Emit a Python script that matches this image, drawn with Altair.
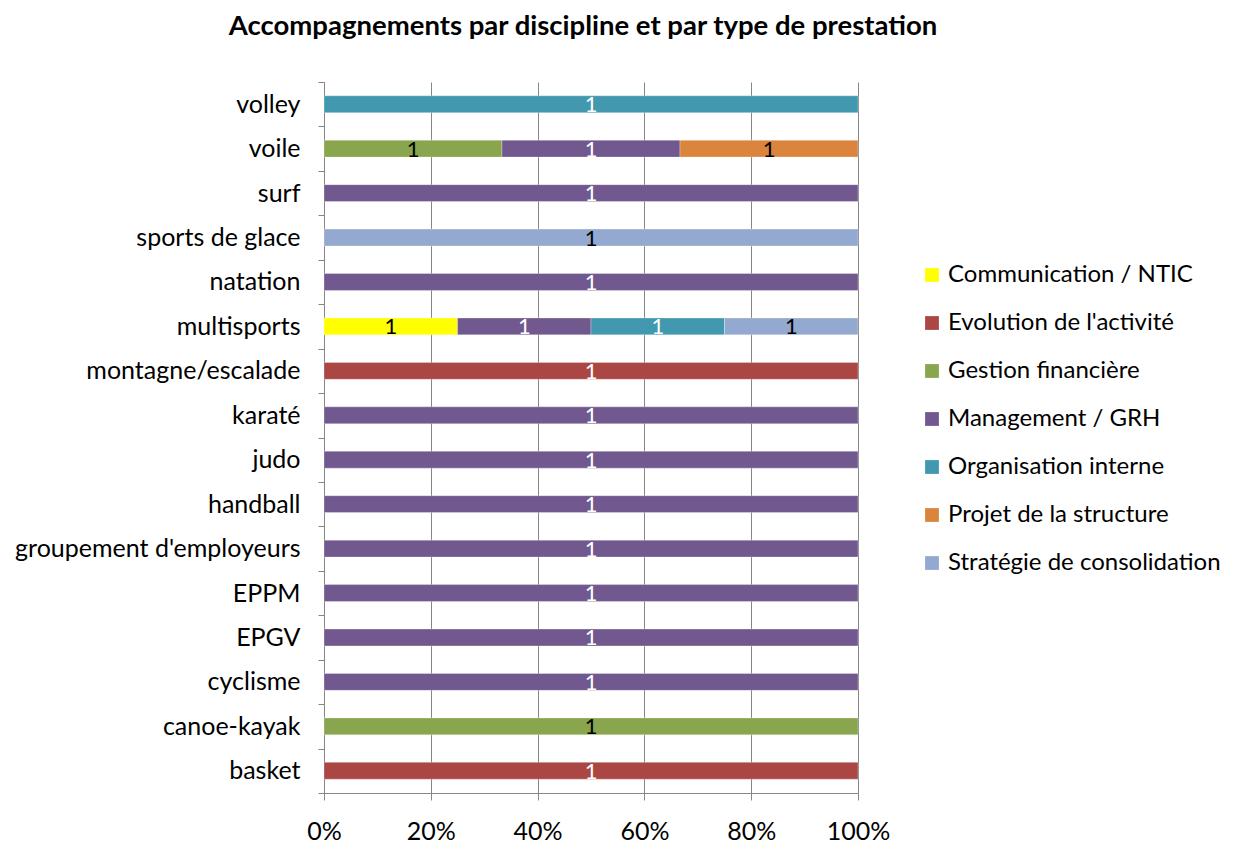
import altair as alt
import pandas as pd
import json

disciplines = ["volley", "voile", "voile", "voile", "surf", "sports de glace", "natation",
               "multisports", "multisports", "multisports", "multisports",
               "montagne/escalade", "karaté", "judo", "handball", "groupement d'employeurs",
               "EPPM", "EPGV", "cyclisme", "canoe-kayak", "basket"]
types = ["Organisation interne", "Gestion financière", "Management / GRH", "Projet de la structure",
         "Management / GRH", "Stratégie de consolidation", "Management / GRH",
         "Communication / NTIC", "Management / GRH", "Organisation interne", "Stratégie de consolidation",
         "Evolution de l'activité", "Management / GRH", "Management / GRH", "Management / GRH",
         "Management / GRH", "Management / GRH", "Management / GRH", "Management / GRH",
         "Gestion financière", "Evolution de l'activité"]
counts = [1] * len(disciplines)

category_order = ["volley", "voile", "surf", "sports de glace", "natation", "multisports",
                  "montagne/escalade", "karaté", "judo", "handball", "groupement d'employeurs",
                  "EPPM", "EPGV", "cyclisme", "canoe-kayak", "basket"]
type_order = ["Communication / NTIC", "Evolution de l'activité", "Gestion financière",
              "Management / GRH", "Organisation interne", "Projet de la structure",
              "Stratégie de consolidation"]
type_colors = ["#FFFF00", "#AA4643", "#89A54E", "#71588F", "#4198AF", "#DB843D", "#93A9CF"]
dark_types = ["Evolution de l'activité", "Management / GRH", "Organisation interne"]

df = pd.DataFrame({"discipline": disciplines, "type": types, "count": counts})

FONT = "Lato"

dark_test = " || ".join("datum.type === %s" % json.dumps(t, ensure_ascii=False) for t in dark_types)

base = alt.Chart(df).transform_stack(
    stack="count", as_=["x0", "x1"], groupby=["discipline"], offset="normalize",
    sort=[alt.SortField("type", order="ascending")]
).transform_calculate(
    xm="(datum.x0 + datum.x1) / 2",
    tcol="(%s) ? 'white' : 'black'" % dark_test
)

yenc = alt.Y("discipline:N", sort=category_order, title=None,
             scale=alt.Scale(paddingInner=0, paddingOuter=0),
             axis=alt.Axis(labelFontSize=25, labelFont=FONT, labelColor="black",
                           labelPadding=18, tickBand="extent", tickSize=6, labelLimit=400,
                           tickColor="#868686", domainColor="#868686", grid=False))

bars = base.mark_bar(height={"band": 0.38}, stroke="white", strokeWidth=0.5,
                     strokeOpacity=0.6).encode(
    x=alt.X("x0:Q", scale=alt.Scale(domain=[0, 1]), title=None,
            axis=alt.Axis(format="%", values=[0, 0.2, 0.4, 0.6, 0.8, 1.0], labelFontSize=25,
                          labelFont=FONT, labelColor="black", labelPadding=19, tickSize=7,
                          labelFlush=False, labelOverlap=False, labelBound=False,
                          tickColor="#868686", domainColor="#868686", gridColor="#868686",
                          grid=True)),
    x2="x1:Q",
    y=yenc,
    color=alt.Color("type:N", scale=alt.Scale(domain=type_order, range=type_colors),
                    legend=alt.Legend(title=None, orient="none", legendX=596, legendY=181,
                                      symbolType="square", symbolSize=190, symbolStrokeWidth=0,
                                      labelFontSize=24, labelFont=FONT, labelColor="black",
                                      labelOffset=4, rowPadding=24, labelLimit=400)),
)

texts = base.mark_text(fontSize=22, font=FONT, baseline="middle", align="center", dy=1).encode(
    x="xm:Q",
    y=alt.Y("discipline:N", sort=category_order),
    text="count:Q",
    color=alt.Color("tcol:N", scale=None),
)

chart = (bars + texts).properties(
    width=534, height=711,
    title=alt.TitleParams("Accompagnements par discipline et par type de prestation",
                          font=FONT, fontSize=27.5, fontWeight="bold", color="black",
                          anchor="middle", offset=30, dx=-8),
    autosize=alt.AutoSizeParams(type="none"),
    padding={"left": 316, "top": 74, "right": 368, "bottom": 60},
).configure_view(stroke=None)

chart.save("out.html", embed_options={"renderer": "svg", "actions": False})
